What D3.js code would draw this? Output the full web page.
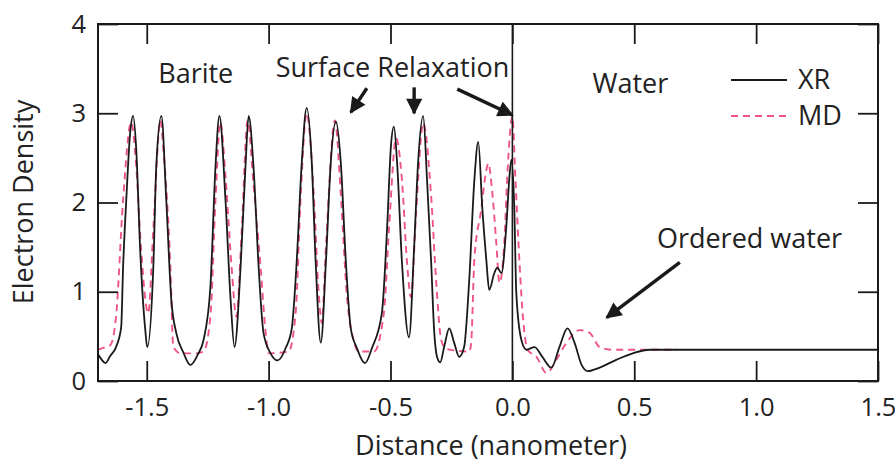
<!DOCTYPE html>
<html>
<head>
<meta charset="utf-8">
<script src="https://cdn.jsdelivr.net/npm/d3@7"></script>
<style>
  body { margin: 0; background: #fff; }
  svg { font-family: "Open Sans", sans-serif; }
</style>
</head>
<body>
<div id="chart"></div>
<script>
// XR curve (distance in nm, electron density)
const xrDist = [-1.700, -1.685, -1.670, -1.650, -1.626, -1.605, -1.597, -1.584, -1.568, -1.556, -1.543, -1.527, -1.506, -1.498,
    -1.473, -1.461, -1.440, -1.420, -1.399, -1.379, -1.350, -1.321, -1.290, -1.267, -1.239, -1.218, -1.202, -1.177, -1.156,
    -1.140, -1.115, -1.095, -1.082, -1.062, -1.041, -1.021, -0.992, -0.963, -0.930, -0.905, -0.885, -0.864, -0.844, -0.823,
    -0.807, -0.786, -0.765, -0.745, -0.724, -0.704, -0.683, -0.663, -0.638, -0.605, -0.576, -0.535, -0.514, -0.498, -0.486,
    -0.473, -0.453, -0.424, -0.403, -0.387, -0.366, -0.350, -0.333, -0.321, -0.309, -0.296, -0.280, -0.259, -0.239, -0.218,
    -0.198, -0.177, -0.156, -0.140, -0.123, -0.107, -0.095, -0.074, -0.062, -0.045, -0.025, -0.012, -0.004, 0.008, 0.016,
    0.037, 0.058, 0.091, 0.123, 0.160, 0.193, 0.226, 0.255, 0.284, 0.309, 0.358, 0.428, 0.494, 0.564, 0.700, 1.000, 1.500];
const xrDensity = [0.30, 0.24, 0.20, 0.28, 0.38, 0.60, 1.28, 2.03, 2.78, 2.97, 2.59, 1.47, 0.57, 0.38,
    1.28, 2.40, 2.97, 2.03, 0.90, 0.54, 0.32, 0.18, 0.30, 0.46, 1.05, 2.40, 2.97, 2.03, 0.91,
    0.38, 1.28, 2.40, 2.97, 2.40, 1.28, 0.54, 0.31, 0.23, 0.37, 0.59, 1.33, 2.45, 3.06, 2.45,
    1.33, 0.43, 1.33, 2.45, 2.91, 2.45, 1.33, 0.59, 0.37, 0.20, 0.37, 0.77, 1.71, 2.64, 2.85,
    2.45, 1.33, 0.49, 1.50, 2.44, 2.97, 2.25, 1.32, 0.57, 0.27, 0.21, 0.38, 0.59, 0.43, 0.27,
    0.38, 1.13, 2.25, 2.68, 1.92, 1.36, 1.02, 1.21, 1.27, 1.21, 1.73, 2.29, 2.48, 1.92, 0.99,
    0.46, 0.35, 0.38, 0.27, 0.15, 0.38, 0.59, 0.43, 0.18, 0.11, 0.15, 0.24, 0.31, 0.35, 0.35, 0.35, 0.35];

// MD curve
const mdDist = [-1.700, -1.679, -1.650, -1.626, -1.597, -1.564, -1.543, -1.523, -1.494, -1.473, -1.444, -1.432, -1.403,
    -1.391, -1.362, -1.300, -1.267, -1.239, -1.218, -1.198, -1.177, -1.152, -1.132, -1.111, -1.086, -1.062, -1.033, -1.012,
    -1.000, -0.918, -0.889, -0.868, -0.844, -0.815, -0.794, -0.782, -0.765, -0.728, -0.704, -0.679, -0.650, -0.630, -0.568,
    -0.527, -0.506, -0.477, -0.453, -0.432, -0.416, -0.395, -0.366, -0.333, -0.313, -0.292, -0.272, -0.177, -0.169, -0.156,
    -0.128, -0.107, -0.099, -0.082, -0.066, -0.053, -0.033, -0.021, 0.000, 0.012, 0.025, 0.041, 0.062, 0.099, 0.140,
    0.181, 0.222, 0.276, 0.317, 0.358, 0.412, 0.675];
const mdDensity = [0.35, 0.37, 0.40, 0.72, 2.03, 2.90, 2.40, 1.47, 0.76, 1.70, 2.92, 2.60, 1.28,
    0.38, 0.31, 0.31, 0.33, 0.72, 2.03, 2.90, 2.30, 1.28, 0.72, 1.65, 2.92, 2.20, 1.28, 0.54,
    0.31, 0.33, 0.77, 2.10, 3.00, 2.10, 0.96, 0.65, 1.50, 2.92, 2.10, 0.96, 0.44, 0.33, 0.33,
    0.77, 1.71, 2.72, 2.25, 1.32, 0.94, 1.88, 2.89, 2.06, 1.13, 0.46, 0.36, 0.33, 0.43, 1.36,
    1.92, 2.36, 2.44, 2.10, 1.55, 1.10, 1.55, 2.29, 2.96, 2.29, 1.55, 0.80, 0.35, 0.27, 0.09,
    0.24, 0.43, 0.57, 0.54, 0.38, 0.35, 0.35];

const xTicks = [-1.5, -1.0, -0.5, 0.0, 0.5, 1.0, 1.5];
const yTicks = [0, 1, 2, 3, 4];

// annotations (data units)
const labels = [
    { text: "Barite", x: -1.453, y: 3.34 },
    { text: "Surface Relaxation", x: -0.971, y: 3.41 },
    { text: "Water", x: 0.329, y: 3.23 },
    { text: "Ordered water", x: 0.593, y: 1.49 }
];
const arrows = [
    { x1: -0.597, y1: 3.28, x2: -0.663, y2: 3.01 },
    { x1: -0.403, y1: 3.29, x2: -0.403, y2: 3.00 },
    { x1: -0.226, y1: 3.27, x2: 0.000, y2: 2.98 },
    { x1: 0.687, y1: 1.33, x2: 0.387, y2: 0.71 }
];

const width = 895, height = 463;
const margin = { left: 98, right: 878, top: 24, bottom: 381 };
const pink = "#ee5583";
const ink = "#1a1a1a";

const svg = d3.select("#chart").append("svg")
    .attr("width", width)
    .attr("height", height);

const x = d3.scaleLinear().domain([-1.7, 1.5]).range([margin.left, margin.right]);
const y = d3.scaleLinear().domain([0, 4]).range([margin.bottom, margin.top]);

const defs = svg.append("defs");
defs.append("clipPath").attr("id", "clip")
    .append("rect")
    .attr("x", margin.left).attr("y", margin.top)
    .attr("width", margin.right - margin.left).attr("height", margin.bottom - margin.top);

defs.append("marker")
    .attr("id", "head")
    .attr("markerUnits", "userSpaceOnUse")
    .attr("viewBox", "0 0 10 10")
    .attr("refX", 9).attr("refY", 5)
    .attr("markerWidth", 18).attr("markerHeight", 16)
    .attr("orient", "auto")
    .append("path").attr("d", "M0,0 L10,5 L0,10 z").attr("fill", ink);

const line = d3.line()
    .x(d => x(d[0]))
    .y(d => y(d[1]))
    .curve(d3.curveMonotoneX);

const xrData = d3.zip(xrDist, xrDensity);
const mdData = d3.zip(mdDist, mdDensity);

const plot = svg.append("g").attr("clip-path", "url(#clip)");

plot.append("path")
    .datum(mdData)
    .attr("d", line)
    .attr("fill", "none")
    .attr("stroke", pink)
    .attr("stroke-width", 1.9)
    .attr("stroke-dasharray", "7,5");

plot.append("path")
    .datum(xrData)
    .attr("d", line)
    .attr("fill", "none")
    .attr("stroke", ink)
    .attr("stroke-width", 1.8);

// vertical line at the interface
svg.append("line")
    .attr("x1", x(0)).attr("x2", x(0))
    .attr("y1", margin.top).attr("y2", margin.bottom)
    .attr("stroke", ink).attr("stroke-width", 1.6);

// axes, ticks point inward on all four sides
const fmt = d => d.toFixed(1);

svg.append("g").attr("transform", `translate(0,${margin.bottom})`)
    .call(d3.axisBottom(x).tickValues(xTicks).tickFormat(fmt).tickSizeInner(-20).tickSizeOuter(0).tickPadding(17));
svg.append("g").attr("transform", `translate(0,${margin.top})`)
    .call(d3.axisTop(x).tickValues(xTicks).tickFormat("").tickSizeInner(-20).tickSizeOuter(0));
svg.append("g").attr("transform", `translate(${margin.left},0)`)
    .call(d3.axisLeft(y).tickValues(yTicks).tickFormat(d3.format("d")).tickSizeInner(-20).tickSizeOuter(0).tickPadding(12));
svg.append("g").attr("transform", `translate(${margin.right},0)`)
    .call(d3.axisRight(y).tickValues(yTicks).tickFormat("").tickSizeInner(-20).tickSizeOuter(0));

svg.selectAll(".domain").remove();
svg.selectAll(".tick line").attr("stroke", ink).attr("stroke-width", 1.8);
svg.selectAll(".tick text").attr("font-family", "Open Sans").attr("font-size", 25.5).attr("fill", "#222");

svg.append("rect")
    .attr("x", margin.left).attr("y", margin.top)
    .attr("width", margin.right - margin.left).attr("height", margin.bottom - margin.top)
    .attr("fill", "none").attr("stroke", ink).attr("stroke-width", 2);

// axis titles
svg.append("text")
    .attr("x", 491).attr("y", 455)
    .attr("text-anchor", "middle")
    .attr("font-size", 27).attr("fill", "#222")
    .text("Distance (nanometer)");

svg.append("text")
    .attr("transform", "translate(33,202) rotate(-90)")
    .attr("text-anchor", "middle")
    .attr("font-size", 27).attr("fill", "#222")
    .text("Electron Density");

// annotations
svg.selectAll(".label")
    .data(labels)
    .enter().append("text")
    .attr("class", "label")
    .attr("x", d => x(d.x))
    .attr("y", d => y(d.y))
    .attr("font-size", 27).attr("fill", "#222")
    .text(d => d.text);

svg.selectAll(".arrow")
    .data(arrows)
    .enter().append("line")
    .attr("class", "arrow")
    .attr("x1", d => x(d.x1)).attr("y1", d => y(d.y1))
    .attr("x2", d => x(d.x2)).attr("y2", d => y(d.y2))
    .attr("stroke", ink).attr("stroke-width", 3.4)
    .attr("marker-end", "url(#head)");

// legend
const legend = svg.append("g");
const series = [
    { name: "XR", color: ink, dash: null, y: 80 },
    { name: "MD", color: pink, dash: "7,5", y: 116 }
];
series.forEach(s => {
    legend.append("line")
        .attr("x1", 731).attr("x2", 787)
        .attr("y1", s.y).attr("y2", s.y)
        .attr("stroke", s.color).attr("stroke-width", 1.9)
        .attr("stroke-dasharray", s.dash);
    legend.append("text")
        .attr("x", 798).attr("y", s.y + 9)
        .attr("font-size", 27).attr("fill", "#222")
        .text(s.name);
});
</script>
</body>
</html>
